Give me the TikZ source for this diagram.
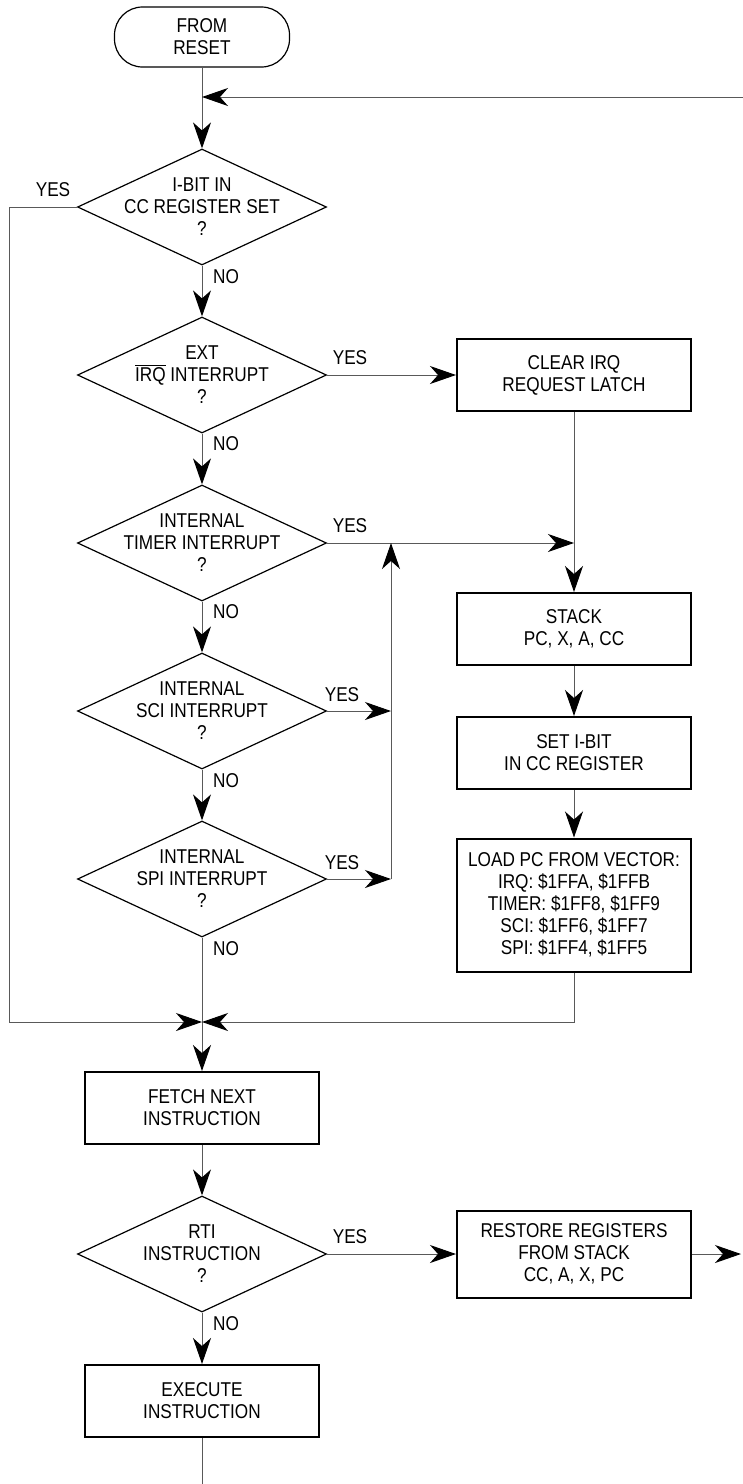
\documentclass[tikz,border=0pt]{standalone}
\usepackage{fontspec}
\setmainfont{Liberation Sans}[FakeStretch=0.86]
\usetikzlibrary{positioning,shapes.geometric,arrows.meta}

\newcommand{\flowfont}{\fontsize{10}{11}\selectfont}
\newcommand{\lowbar}[1]{$\overline{\mbox{#1}}$}

\tikzset{
  terminal/.style={draw, line width=0.6pt, rounded corners=14pt, minimum width=87.5pt, minimum height=30pt, align=center, font=\flowfont},
  decision/.style={draw, shape=diamond, line width=0.6pt, aspect=2.15, minimum width=124.5pt, minimum height=58pt, inner xsep=-6pt, inner ysep=-6pt, align=center, font=\flowfont},
  process/.style={draw, line width=1pt, minimum width=117pt, minimum height=36pt, align=center, font=\flowfont},
  answer/.style={font=\flowfont, inner sep=0pt},
  flow/.style={draw=black!65, line width=0.5pt},
  flowarrow/.style={flow, -{Stealth[length=13pt, width=9pt, inset=4pt, color=black]}},
}

\begin{document}
\begin{tikzpicture}[x=0.5pt, y=-0.5pt]
\useasboundingbox (0,0) rectangle (743,1484);

\node[terminal] (start) at (202,37) {FROM\\RESET};
\node[decision] (ibit) at (202,207) {I-BIT IN\\CC REGISTER SET\\?};
\node[decision] (extirq) at (202,375) {EXT\\\lowbar{IRQ} INTERRUPT\\?};
\node[decision] (timer) at (202,543) {INTERNAL\\TIMER INTERRUPT\\?};
\node[decision] (sci) at (202,711) {INTERNAL\\SCI INTERRUPT\\?};
\node[decision] (spi) at (202,879) {INTERNAL\\SPI INTERRUPT\\?};
\node[process] (fetch) at (202,1108) {FETCH NEXT\\INSTRUCTION};
\node[decision] (rti) at (202,1254) {RTI\\INSTRUCTION\\?};
\node[process] (execute) at (202,1401) {EXECUTE\\INSTRUCTION};

\node[process] (clearirq) at (574,375) {CLEAR IRQ\\REQUEST LATCH};
\node[process] (stack) at (574,629) {STACK\\PC, X, A, CC};
\node[process] (setibit) at (574,753) {SET I-BIT\\IN CC REGISTER};
\node[process, minimum height=66.5pt] (loadpc) at (574,905) {LOAD PC FROM VECTOR:\\IRQ: \$1FFA, \$1FFB\\TIMER: \$1FF8, \$1FF9\\SCI: \$1FF6, \$1FF7\\SPI: \$1FF4, \$1FF5};
\node[process, minimum height=43.5pt] (restore) at (574,1254) {RESTORE REGISTERS\\FROM STACK\\CC, A, X, PC};

\node[answer] (ibityes) at (53,190) {YES};
\node[answer] (ibitno) at (226,277) {NO};
\node[answer] (extyes) at (350,358) {YES};
\node[answer] (extno) at (226,444) {NO};
\node[answer] (timeryes) at (350,526) {YES};
\node[answer] (timerno) at (226,612) {NO};
\node[answer] (sciyes) at (342,695) {YES};
\node[answer] (scino) at (226,781) {NO};
\node[answer] (spiyes) at (342,863) {YES};
\node[answer] (spino) at (226,949) {NO};
\node[answer] (rtiyes) at (350,1237) {YES};
\node[answer] (rtino) at (226,1324) {NO};

% loose ends of the main loop
\coordinate (loopin) at (743,97);
\coordinate (loopout) at (741,1254);
\coordinate (loopend) at (202,1484);
\coordinate (merge) at (202,1022);
\coordinate (bustop) at (391,543);
\coordinate (busbot) at (391,879);

\draw[flowarrow] (start.south) -- (ibit.north);
\draw[flowarrow] (loopin) -- (loopin -| start.south);
\draw[flowarrow] (ibit.south) -- (extirq.north);
\draw[flowarrow] (extirq.south) -- (timer.north);
\draw[flowarrow] (timer.south) -- (sci.north);
\draw[flowarrow] (sci.south) -- (spi.north);
\draw[flowarrow] (spi.south) -- (fetch.north);
\draw[flowarrow] (ibit.west) -- ++(-67,0) |- (merge);
\draw[flowarrow] (loadpc.south) |- (merge);

\draw[flowarrow] (extirq.east) -- (clearirq.west);
\draw[flowarrow] (clearirq.south) -- (stack.north);
\draw[flowarrow] (timer.east) -- (timer.east -| clearirq.south);
\draw[flowarrow] (busbot) -- (bustop);
\draw[flowarrow] (sci.east) -- (sci.east -| bustop);
\draw[flowarrow] (spi.east) -- (spi.east -| bustop);
\draw[flowarrow] (stack.south) -- (setibit.north);
\draw[flowarrow] (setibit.south) -- (loadpc.north);

\draw[flowarrow] (fetch.south) -- (rti.north);
\draw[flowarrow] (rti.east) -- (restore.west);
\draw[flowarrow] (restore.east) -- (loopout);
\draw[flowarrow] (rti.south) -- (execute.north);
\draw[flow] (execute.south) -- (loopend);
\end{tikzpicture}
\end{document}
